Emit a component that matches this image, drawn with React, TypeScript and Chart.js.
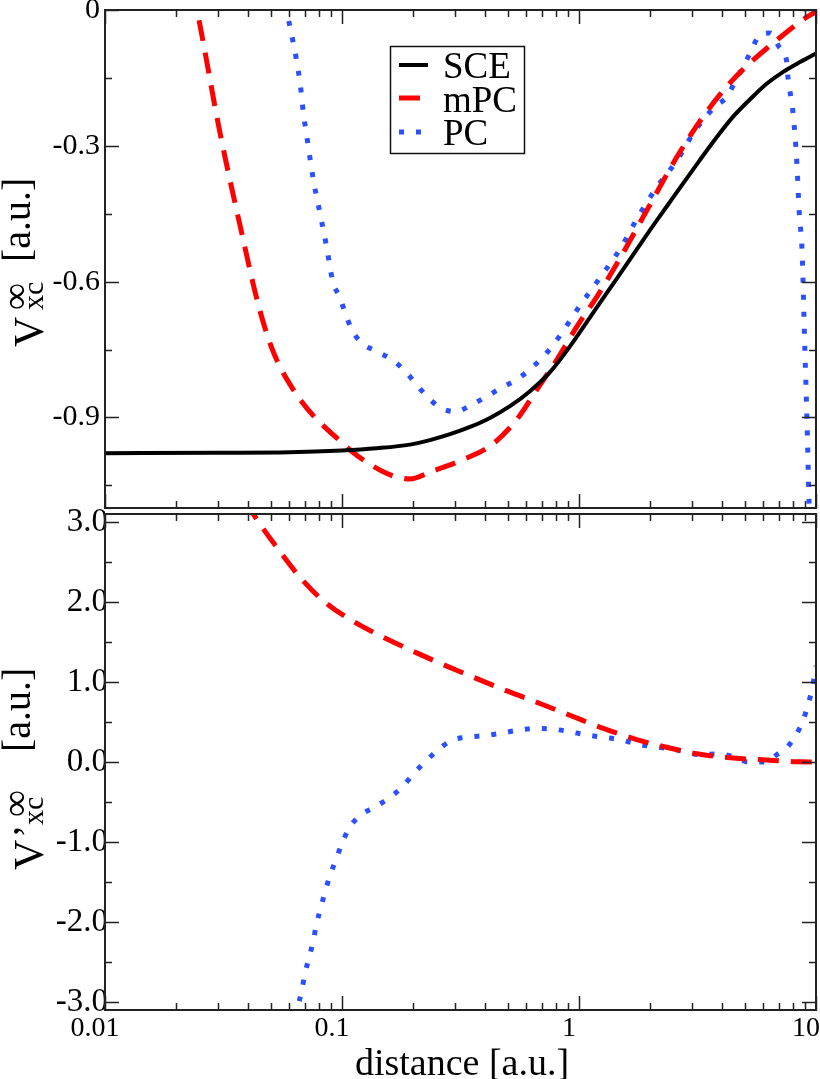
import React, { useEffect, useRef } from 'react';
import { Chart, registerables } from 'chart.js';
Chart.register(...registerables);

// ---------- axes ----------
const X_MIN = 0.01;
const X_MAX = 10;
const X_LABEL_VALUES = [0.01, 0.1, 1, 10];
const X_LABELS = ['0.01', '0.1', '1', '10'];
const X_DECADES = [0.01, 0.1, 1];
const X_MULTS = [1, 2, 3, 4, 5, 6, 7, 8, 9];

const TOP_Y_MIN = -1.1;
const TOP_Y_MAX = 0;
const TOP_Y_MAJOR = [-0.9, -0.6, -0.3, 0];
const TOP_Y_MINOR = [-1.05, -0.75, -0.45, -0.15];

const BOT_Y_MIN = -3.1;
const BOT_Y_MAX = 3.1;
const BOT_Y_MAJOR = [-3, -2, -1, 0, 1, 2, 3];
const BOT_Y_MINOR = [-2.5, -1.5, -0.5, 0.5, 1.5, 2.5];

const SERIES_LABELS = ['SCE', 'mPC', 'PC'];

// ---------- top panel: v_xc ----------
const SCE_TOP_X = [0.01, 0.03, 0.06, 0.1, 0.14, 0.1936, 0.235, 0.2856, 0.3468, 0.421, 0.5114, 0.621, 0.7544, 0.916, 1.113, 1.351, 1.641, 2.0, 2.345, 3.24, 3.81, 4.48, 5.3, 6.19, 7.3, 8.56, 9.3, 10];
const SCE_TOP_Y = [-0.979, -0.978, -0.977, -0.973, -0.968, -0.96, -0.95, -0.937, -0.921, -0.901, -0.875, -0.842, -0.8, -0.743, -0.679, -0.615, -0.551, -0.485, -0.434, -0.331, -0.281, -0.235, -0.196, -0.163, -0.136, -0.115, -0.105, -0.096];

const MPC_TOP_X = [0.02328, 0.02444, 0.03056, 0.03897, 0.04294, 0.04642, 0.05066, 0.05476, 0.06034, 0.0665, 0.07691, 0.09344, 0.1157, 0.1548, 0.1723, 0.1936, 0.2397, 0.3239, 0.4294, 0.5476, 0.665, 0.8076, 0.9808, 1.191, 1.446, 1.993, 2.591, 3.336, 4.336, 5.265, 6.845, 9.162, 10];
const MPC_TOP_Y = [0.0485, 0.0, -0.271, -0.525, -0.622, -0.688, -0.748, -0.788, -0.827, -0.86, -0.9, -0.942, -0.984, -1.024, -1.032, -1.036, -1.019, -0.993, -0.96, -0.904, -0.838, -0.772, -0.699, -0.633, -0.56, -0.43, -0.3243, -0.236, -0.161, -0.117, -0.0662, -0.0154, -0.0044];

const PC_TOP_X = [0.056, 0.0586, 0.0665, 0.0687, 0.0721, 0.0757, 0.0807, 0.0861, 0.0915, 0.098, 0.103, 0.11, 0.121, 0.14, 0.162, 0.185, 0.203, 0.228, 0.259, 0.303, 0.354, 0.41, 0.472, 0.547, 0.62, 0.70, 0.78, 0.86, 0.94, 1.03, 1.14, 1.25, 1.38, 1.51, 1.78, 2.14, 2.6, 3.1, 3.74, 4.2, 4.6, 5.3, 5.7, 6.4, 7.0, 7.5, 7.62, 8.0, 8.3, 8.5, 8.73, 8.98, 9.16, 9.35, 9.5];
const PC_TOP_Y = [0.05, -0.004, -0.16, -0.227, -0.302, -0.375, -0.448, -0.523, -0.60, -0.635, -0.668, -0.706, -0.735, -0.754, -0.772, -0.798, -0.823, -0.853, -0.878, -0.887, -0.871, -0.853, -0.834, -0.816, -0.794, -0.768, -0.739, -0.708, -0.677, -0.646, -0.615, -0.585, -0.554, -0.523, -0.456, -0.39, -0.331, -0.265, -0.214, -0.192, -0.154, -0.093, -0.06, -0.051, -0.082, -0.11, -0.15, -0.227, -0.337, -0.448, -0.53, -0.755, -0.904, -1.09, -1.2];

// ---------- bottom panel: v'_xc ----------
const MPC_BOT_X = [0.03897, 0.0423, 0.04508, 0.05476, 0.06702, 0.08481, 0.1116, 0.1493, 0.2066, 0.272, 0.3702, 0.503, 0.6844, 0.9315, 1.266, 1.737, 2.362, 3.239, 4.477, 6.194, 8.356, 10];
const MPC_BOT_Y = [3.26, 3.097, 2.973, 2.63, 2.298, 1.996, 1.758, 1.56, 1.364, 1.208, 1.042, 0.882, 0.731, 0.575, 0.42, 0.284, 0.181, 0.097, 0.05, 0.025, 0.002, 0.0];

const PC_BOT_X = [0.064, 0.0652, 0.0676, 0.0697, 0.0727, 0.0756, 0.078, 0.0814, 0.0847, 0.089, 0.0943, 0.1, 0.107, 0.119, 0.138, 0.158, 0.18, 0.2, 0.224, 0.254, 0.29, 0.34, 0.40, 0.47, 0.56, 0.66, 0.78, 0.91, 1.07, 1.26, 1.48, 1.74, 2.05, 2.38, 2.8, 3.27, 3.8, 4.45, 5.18, 6.03, 6.82, 7.64, 8.28, 8.84, 9.28, 9.64, 10];
const PC_BOT_Y = [-3.2, -3.06, -2.86, -2.65, -2.44, -2.24, -2.03, -1.82, -1.63, -1.42, -1.22, -1.02, -0.83, -0.67, -0.56, -0.45, -0.31, -0.15, 0.0, 0.15, 0.27, 0.31, 0.33, 0.36, 0.40, 0.42, 0.41, 0.38, 0.34, 0.31, 0.28, 0.23, 0.19, 0.17, 0.13, 0.09, 0.10, 0.07, 0.0, 0.0, 0.09, 0.2, 0.35, 0.53, 0.73, 0.92, 1.2];

const FONT = '"Liberation Serif", "Times New Roman", serif';
const BLACK = '#000000';
const RED = '#ff0000';
const BLUE = '#2b50ff';

const pts = (xs: number[], ys: number[]) => xs.map((x, i) => ({ x, y: ys[i] }));

const styleSCE = { borderColor: BLACK, borderWidth: 4, borderDash: [] as number[] };
const styleMPC = { borderColor: RED, borderWidth: 5, borderDash: [21, 12] };
const stylePC = { borderColor: BLUE, borderWidth: 5, borderDash: [5, 12] };

function ds(label: string, data: any[], style: any) {
  return {
    label,
    data,
    ...style,
    borderCapStyle: 'butt',
    pointRadius: 0,
    pointHoverRadius: 0,
    fill: false,
    cubicInterpolationMode: 'monotone',
    clip: 0,
  };
}

function rotText(ctx: CanvasRenderingContext2D, text: string, xBase: number, yStart: number, size: number) {
  ctx.save();
  ctx.translate(xBase, yStart);
  ctx.rotate(-Math.PI / 2);
  ctx.font = `${size}px ${FONT}`;
  ctx.textAlign = 'left';
  ctx.textBaseline = 'alphabetic';
  ctx.fillStyle = '#000';
  ctx.fillText(text, 0, 0);
  ctx.restore();
}

function frameAndTicks(chart: any, yMajor: number[], yMinor: number[]) {
  const ctx: CanvasRenderingContext2D = chart.ctx;
  const { left, right, top, bottom } = chart.chartArea;
  const xs = chart.scales.x;
  const ys = chart.scales.y;
  ctx.save();
  ctx.strokeStyle = '#222';
  ctx.lineWidth = 1.5;
  const MAJ = 14;
  const MIN = 7;
  const xVals: { v: number; major: boolean }[] = [];
  X_DECADES.forEach((d) => X_MULTS.forEach((m) => xVals.push({ v: d * m, major: m === 1 })));
  xVals.push({ v: X_MAX, major: true });
  ctx.beginPath();
  xVals.forEach(({ v, major }) => {
    const px = Math.round(xs.getPixelForValue(v)) + 0.5;
    const L = major ? MAJ : MIN;
    ctx.moveTo(px, bottom);
    ctx.lineTo(px, bottom - L);
    ctx.moveTo(px, top);
    ctx.lineTo(px, top + L);
  });
  const yTick = (v: number, L: number) => {
    const py = Math.round(ys.getPixelForValue(v)) + 0.5;
    ctx.moveTo(left, py);
    ctx.lineTo(left + L, py);
    ctx.moveTo(right, py);
    ctx.lineTo(right - L, py);
  };
  yMajor.forEach((v) => yTick(v, MAJ));
  yMinor.forEach((v) => yTick(v, MIN));
  ctx.stroke();
  ctx.lineWidth = 2;
  ctx.strokeRect(left, top, right - left, bottom - top);
  ctx.restore();
}

function drawLegend(chart: any) {
  const ctx: CanvasRenderingContext2D = chart.ctx;
  ctx.save();
  ctx.fillStyle = '#fff';
  ctx.fillRect(390, 46, 134, 107);
  ctx.strokeStyle = '#111';
  ctx.lineWidth = 1.5;
  ctx.strokeRect(390.5, 46.5, 134, 107);
  const rows = [65, 98, 132];
  const bases = [78, 112, 145];
  chart.data.datasets.forEach((d: any, i: number) => {
    ctx.save();
    ctx.strokeStyle = d.borderColor;
    ctx.lineWidth = d.borderWidth;
    ctx.lineCap = 'butt';
    ctx.setLineDash(d.borderDash || []);
    ctx.beginPath();
    ctx.moveTo(399, rows[i]);
    ctx.lineTo(428, rows[i]);
    ctx.stroke();
    ctx.restore();
    ctx.font = `37px ${FONT}`;
    ctx.fillStyle = '#000';
    ctx.textAlign = 'left';
    ctx.textBaseline = 'alphabetic';
    ctx.fillText(d.label, 443, bases[i]);
  });
  ctx.restore();
}

const xTickCallback = (v: any) => {
  const i = X_LABEL_VALUES.findIndex((t) => Math.abs(t - Number(v)) / t < 1e-6);
  return i >= 0 ? X_LABELS[i] : '';
};

export default function App() {
  const topRef = useRef<HTMLCanvasElement>(null);
  const botRef = useRef<HTMLCanvasElement>(null);

  useEffect(() => {
    const topPlugin = {
      id: 'topDeco',
      afterDraw(chart: any) {
        frameAndTicks(chart, TOP_Y_MAJOR, TOP_Y_MINOR);
        drawLegend(chart);
        const ctx = chart.ctx;
        rotText(ctx, 'V', 43, 347, 42);
        rotText(ctx, '\u221E', 28, 310, 38);
        rotText(ctx, 'xc', 43, 310, 30);
        rotText(ctx, '[a.u.]', 30, 262, 40);
      },
    };
    const botPlugin = {
      id: 'botDeco',
      afterDraw(chart: any) {
        frameAndTicks(chart, BOT_Y_MAJOR, BOT_Y_MINOR);
        const ctx = chart.ctx;
        rotText(ctx, 'V', 43, 870, 42);
        rotText(ctx, '\u2019', 40, 838, 40);
        rotText(ctx, '\u221E', 28, 817, 38);
        rotText(ctx, 'xc', 43, 825, 30);
        rotText(ctx, '[a.u.]', 30, 752, 40);
        ctx.save();
        ctx.font = `38px ${FONT}`;
        ctx.fillStyle = '#000';
        ctx.textAlign = 'center';
        ctx.textBaseline = 'alphabetic';
        ctx.fillText('distance [a.u.]', 462, 1075);
        ctx.restore();
      },
    };

    const yTicks = (min: number, max: number, step: number, pad: number, size: number, fmt: (v: number) => string) => ({
      type: 'linear',
      min,
      max,
      afterFit: (s: any) => {
        s.width = 105;
        s.paddingTop = 0;
        s.paddingBottom = 0;
      },
      grid: { display: false, drawTicks: false },
      border: { display: false },
      ticks: {
        stepSize: step,
        includeBounds: false,
        padding: pad,
        color: '#000',
        font: { family: FONT, size },
        callback: (v: any) => fmt(Number(v)),
      },
    });

    const top = new Chart(topRef.current as HTMLCanvasElement, {
      type: 'line',
      data: {
        datasets: [
          ds(SERIES_LABELS[0], pts(SCE_TOP_X, SCE_TOP_Y), styleSCE),
          ds(SERIES_LABELS[1], pts(MPC_TOP_X, MPC_TOP_Y), styleMPC),
          ds(SERIES_LABELS[2], pts(PC_TOP_X, PC_TOP_Y), stylePC),
        ] as any,
      },
      options: {
        responsive: false,
        animation: false,
        devicePixelRatio: 1,
        events: [],
        layout: { padding: { left: 0, top: 10, right: 4, bottom: 571 } },
        plugins: { legend: { display: false }, tooltip: { enabled: false } },
        scales: {
          x: { type: 'logarithmic', min: X_MIN, max: X_MAX, display: false },
          y: yTicks(TOP_Y_MIN, TOP_Y_MAX, 0.3, 5, 30, (v) => (Math.abs(v) < 1e-9 ? '0' : v.toFixed(1))),
        } as any,
      },
      plugins: [topPlugin],
    } as any);

    const bot = new Chart(botRef.current as HTMLCanvasElement, {
      type: 'line',
      data: {
        datasets: [
          ds(SERIES_LABELS[1], pts(MPC_BOT_X, MPC_BOT_Y), styleMPC),
          ds(SERIES_LABELS[2], pts(PC_BOT_X, PC_BOT_Y), stylePC),
        ] as any,
      },
      options: {
        responsive: false,
        animation: false,
        devicePixelRatio: 1,
        events: [],
        layout: { padding: { left: 0, top: 514, right: 4, bottom: 0 } },
        plugins: { legend: { display: false }, tooltip: { enabled: false } },
        scales: {
          x: {
            type: 'logarithmic',
            min: X_MIN,
            max: X_MAX,
            position: 'bottom',
            afterFit: (s: any) => {
              s.height = 69;
              s.paddingLeft = 0;
              s.paddingRight = 0;
            },
            grid: { display: false, drawTicks: false },
            border: { display: false },
            ticks: {
              autoSkip: false,
              maxRotation: 0,
              minRotation: 0,
              labelOffset: -10,
              padding: 2,
              color: '#000',
              font: { family: FONT, size: 28 },
              callback: xTickCallback,
            },
          },
          y: yTicks(BOT_Y_MIN, BOT_Y_MAX, 1, -3, 33, (v) => (Math.abs(v) < 1e-9 ? '0.0' : v.toFixed(1))),
        } as any,
      },
      plugins: [botPlugin],
    } as any);

    return () => {
      top.destroy();
      bot.destroy();
    };
  }, []);

  const cv: React.CSSProperties = { position: 'absolute', left: 0, top: 0 };
  return (
    <div style={{ position: 'fixed', left: 0, top: 0, width: 820, height: 1079, overflow: 'hidden', background: '#fff' }}>
      <canvas ref={botRef} width={820} height={1079} style={cv} />
      <canvas ref={topRef} width={820} height={1079} style={cv} />
    </div>
  );
}
